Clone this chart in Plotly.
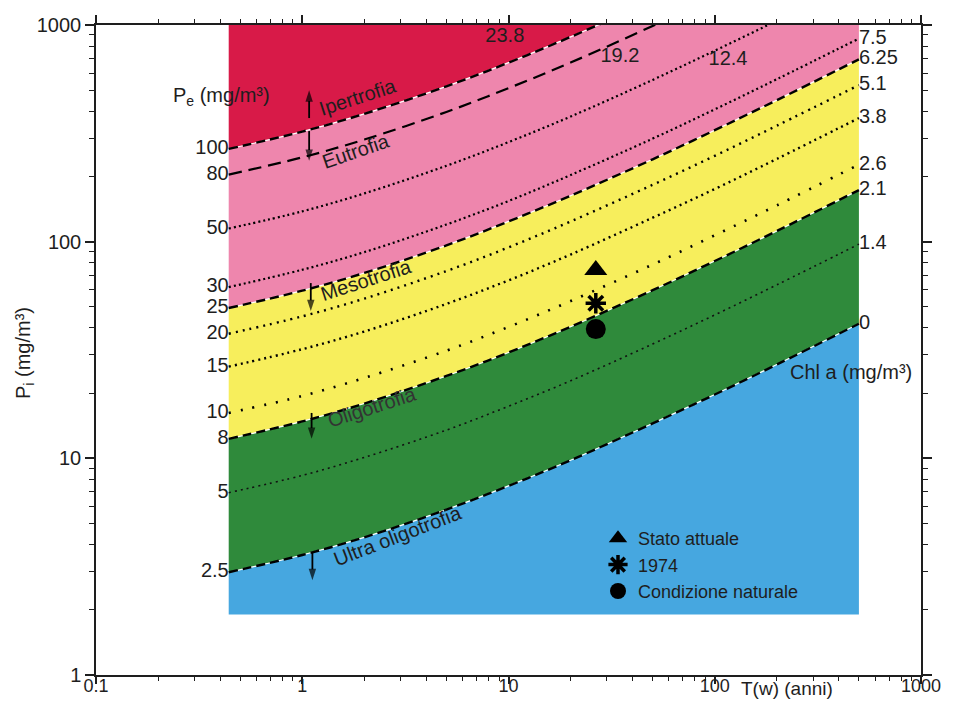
import plotly.graph_objects as go

# Residence time T(w) (years) sample points along every isoline
T_W = [0.44, 1, 2, 5, 10, 20, 50, 100, 200, 500]

# P_i (mg/m3) read along each P_e isoline
PI_PE100 = [268, 322, 389, 521, 670, 881, 1299, 1771, 2438, 3761]
PI_PE80 = [204, 245, 296, 397, 511, 671, 990, 1350, 1858, 2866]
PI_PE50 = [115, 138, 167, 224, 288, 378, 558, 761, 1047, 1616]
PI_PE30 = [61.7, 74.2, 89.5, 120, 154, 203, 299, 408, 562, 866]
PI_PE25 = [49.4, 59.4, 71.7, 96.1, 124, 163, 240, 327, 450, 694]
PI_PE20 = [37.6, 45.2, 54.6, 73.2, 94.1, 124, 183, 249, 343, 528]
PI_PE15 = [26.5, 31.9, 38.5, 51.6, 66.3, 87.2, 129, 175, 241, 372]
PI_PE10 = [16.2, 19.4, 23.5, 31.4, 40.4, 53.2, 78.4, 107, 147, 227]
PI_PE8 = [12.3, 14.8, 17.9, 24.0, 30.8, 40.5, 59.7, 81.4, 112, 173]
PI_PE5 = [6.94, 8.34, 10.1, 13.5, 17.4, 22.8, 33.7, 45.9, 63.2, 97.4]
PI_PE2_5 = [2.98, 3.58, 4.32, 5.80, 7.46, 9.80, 14.5, 19.7, 27.1, 41.8]

BAND_FLOOR = 1.9
BAND_CEIL = 1000

PE_LABELS = ["100", "80", "50", "30", "25", "20", "15", "10", "8", "5", "2.5"]
CHL_RIGHT_LABELS = ["7.5", "6.25", "5.1", "3.8", "2.6", "2.1", "1.4", "0"]
CHL_TOP_LABELS = ["23.8", "19.2", "12.4"]
CHL_TOP_T = [9.6, 34.7, 116]
CHL_TOP_PI = [880, 711, 689]

LAKE_T = [26.5, 26.5, 26.5]
LAKE_PI = [74, 52, 39.5]
LAKE_NAMES = ["Stato attuale", "1974", "Condizione naturale"]
LAKE_SYMBOLS = ["triangle-up", "asterisk", "circle"]

# trophic-state arrows (T, tail P_i, tip P_i)
ARROW_T = [1.08, 1.08, 1.10, 1.11, 1.12]
ARROW_TAIL = [372, 324, 64.4, 16.2, 3.69]
ARROW_TIP = [500, 236, 47.8, 12.3, 2.74]

X_TICKS = [0.1, 1, 10, 100, 1000]
X_TICKTEXT = ["0.1", "1", "10", "100", "1000"]
Y_TICKS = [1, 10, 100, 1000]
Y_TICKTEXT = ["1", "10", "100", "1000"]

RED = "#d81a48"
PINK = "#ee86ad"
YELLOW = "#f7ee5c"
GREEN = "#2f8a3b"
BLUE = "#46a7e0"
INK = "#1e1e1e"
FONT = "Liberation Sans, Arial, sans-serif"
FS = 20

# the page body adds an 8px margin around the figure
W, H = 939, 693
ML, MT = 88, 17
PW, PH = 825, 650
MR, MB = W - ML - PW, H - MT - PH


def px(x):
    # reference page pixel -> paper fraction
    return (x - 96) / PW


def py(y):
    return (675 - y) / PH


fig = go.Figure()

# colored bands
band_seq = [
    ([BAND_FLOOR] * len(T_W), None),
    (PI_PE2_5, BLUE),
    (PI_PE8, GREEN),
    (PI_PE25, YELLOW),
    (PI_PE100, PINK),
    ([BAND_CEIL] * len(T_W), RED),
]
for ys, col in band_seq:
    fig.add_trace(go.Scatter(
        x=T_W, y=ys, mode="lines",
        line=dict(width=0, shape="spline"),
        fill=None if col is None else "tonexty",
        fillcolor=col, hoverinfo="skip", showlegend=False))

# isolines
boundary = dict(color="black", width=2.4, dash="9px,5px", shape="spline")
lines = [
    (PI_PE100, boundary, True),
    (PI_PE80, dict(color="black", width=2.2, dash="13px,7px", shape="spline"), False),
    (PI_PE50, dict(color="black", width=2.2, dash="2px,3px", shape="spline"), False),
    (PI_PE30, dict(color="black", width=2.2, dash="2px,3px", shape="spline"), False),
    (PI_PE25, boundary, True),
    (PI_PE20, dict(color="black", width=2.4, dash="2px,5px", shape="spline"), False),
    (PI_PE15, dict(color="black", width=2.4, dash="2px,4px", shape="spline"), False),
    (PI_PE10, dict(color="black", width=2.6, dash="2px,10px", shape="spline"), False),
    (PI_PE8, boundary, True),
    (PI_PE5, dict(color="#111", width=1.6, dash="2px,4px", shape="spline"), False),
    (PI_PE2_5, boundary, True),
]
for ys, style, is_boundary in lines:
    if is_boundary:
        fig.add_trace(go.Scatter(x=T_W, y=ys, mode="lines",
                                 line=dict(color="white", width=1.2, shape="spline"),
                                 hoverinfo="skip", showlegend=False))
    fig.add_trace(go.Scatter(x=T_W, y=ys, mode="lines", line=style,
                             hoverinfo="skip", showlegend=False))

curves = [PI_PE100, PI_PE80, PI_PE50, PI_PE30, PI_PE25, PI_PE20,
          PI_PE15, PI_PE10, PI_PE8, PI_PE5, PI_PE2_5]

txtfont = dict(family=FONT, size=FS, color=INK)

# P_e labels on the left
fig.add_trace(go.Scatter(
    x=[T_W[0]] * len(curves), y=[c[0] for c in curves], mode="text",
    text=PE_LABELS, textposition="middle left", cliponaxis=False,
    textfont=txtfont, hoverinfo="skip", showlegend=False))

# Chl a labels on the right
right_curves = curves[3:]
fig.add_trace(go.Scatter(
    x=[T_W[-1]] * len(right_curves), y=[c[-1] for c in right_curves], mode="text",
    text=CHL_RIGHT_LABELS, textposition="middle right", cliponaxis=False,
    textfont=txtfont, hoverinfo="skip", showlegend=False))

# Chl a labels at the top
fig.add_trace(go.Scatter(
    x=CHL_TOP_T, y=CHL_TOP_PI, mode="text", text=CHL_TOP_LABELS,
    textposition="middle center", cliponaxis=False,
    textfont=txtfont, hoverinfo="skip", showlegend=False))

# trophic arrows
for t, tail, tip in zip(ARROW_T, ARROW_TAIL, ARROW_TIP):
    fig.add_trace(go.Scatter(
        x=[t, t], y=[tail, tip], mode="lines+markers",
        line=dict(color="black", width=1.8),
        marker=dict(symbol=["circle", "arrow"], size=[0, 12], color="black",
                    angleref="previous", line=dict(width=0)),
        hoverinfo="skip", showlegend=False))

# lake states
for t, p, name, sym in zip(LAKE_T, LAKE_PI, LAKE_NAMES, LAKE_SYMBOLS):
    if sym == "asterisk":
        mk = dict(symbol=sym, size=17, color="black", line=dict(color="black", width=3.5))
    else:
        mk = dict(symbol=sym, size=20, color="black", line=dict(width=0))
    fig.add_trace(go.Scatter(x=[t], y=[p], mode="markers", name=name,
                             marker=mk, hoverinfo="skip", showlegend=True))

# invisible trace to carry the top/right mirror axes
fig.add_trace(go.Scatter(x=[1], y=[10], xaxis="x2", yaxis="y2", mode="markers",
                         marker=dict(opacity=0), hoverinfo="skip", showlegend=False))

ann = []


def label(x, y, text, angle=0, size=FS, color=INK):
    ann.append(dict(xref="paper", yref="paper", x=px(x), y=py(y), text=text,
                    showarrow=False, textangle=angle, xanchor="center", yanchor="middle",
                    font=dict(family=FONT, size=size, color=color)))


label(358, 97, "Ipertrofia", -18)
label(356, 151, "Eutrofia", -19)
label(366, 280, "Mesotrofia", -18)
label(372, 407, "Oligotrofia", -18, color="#333")
label(397, 536, "Ultra oligotrofia", -21)

label(221, 97, "P<sub>e</sub> (mg/m³)")
label(851, 372, "Chl a (mg/m³)")
label(787, 688, "T(w) (anni)", size=19)
label(24, 353, "P<sub>i</sub> (mg/m³)", -90)

axis_common = dict(
    type="log", showline=True, linecolor=INK, linewidth=1.5,
    ticks="outside", tickwidth=1.5, tickcolor=INK,
    showgrid=False, zeroline=False, automargin=False,
)
minor_y = dict(ticks="outside", ticklen=5, tickwidth=1.3, tickcolor=INK,
               dtick="D1", showgrid=False)
minor_x = dict(ticks="outside", ticklen=4, tickwidth=1.3, tickcolor=INK,
               dtick="D1", showgrid=False)

fig.update_layout(
    width=W, height=H,
    margin=dict(l=ML, r=MR, t=MT, b=MB, autoexpand=False),
    paper_bgcolor="white", plot_bgcolor="white",
    font=dict(family=FONT, color=INK),
    xaxis=dict(range=[-1, 3], tickvals=X_TICKS, ticktext=X_TICKTEXT,
               ticklen=7, ticklabelstandoff=-13, minor=minor_x,
               tickfont=dict(family=FONT, size=18, color=INK), **axis_common),
    yaxis=dict(range=[0, 3], tickvals=Y_TICKS, ticktext=Y_TICKTEXT,
               ticklen=9, minor=minor_y,
               tickfont=dict(family=FONT, size=FS, color=INK), **axis_common),
    xaxis2=dict(range=[-1, 3], overlaying="x", side="top", anchor="y",
                ticklen=8, minor=minor_x,
                tickvals=X_TICKS, showticklabels=False, **axis_common),
    yaxis2=dict(range=[0, 3], overlaying="y", side="right", anchor="x",
                ticklen=9, minor=minor_y,
                tickvals=Y_TICKS, showticklabels=False, **axis_common),
    annotations=ann,
    legend=dict(x=px(598), y=py(520), xanchor="left", yanchor="top",
                bgcolor="rgba(0,0,0,0)", borderwidth=0, itemsizing="trace",
                traceorder="normal",
                font=dict(family=FONT, size=18, color=INK),
                tracegroupgap=0, itemclick=False, itemdoubleclick=False),
)

fig.write_html("out.html")
